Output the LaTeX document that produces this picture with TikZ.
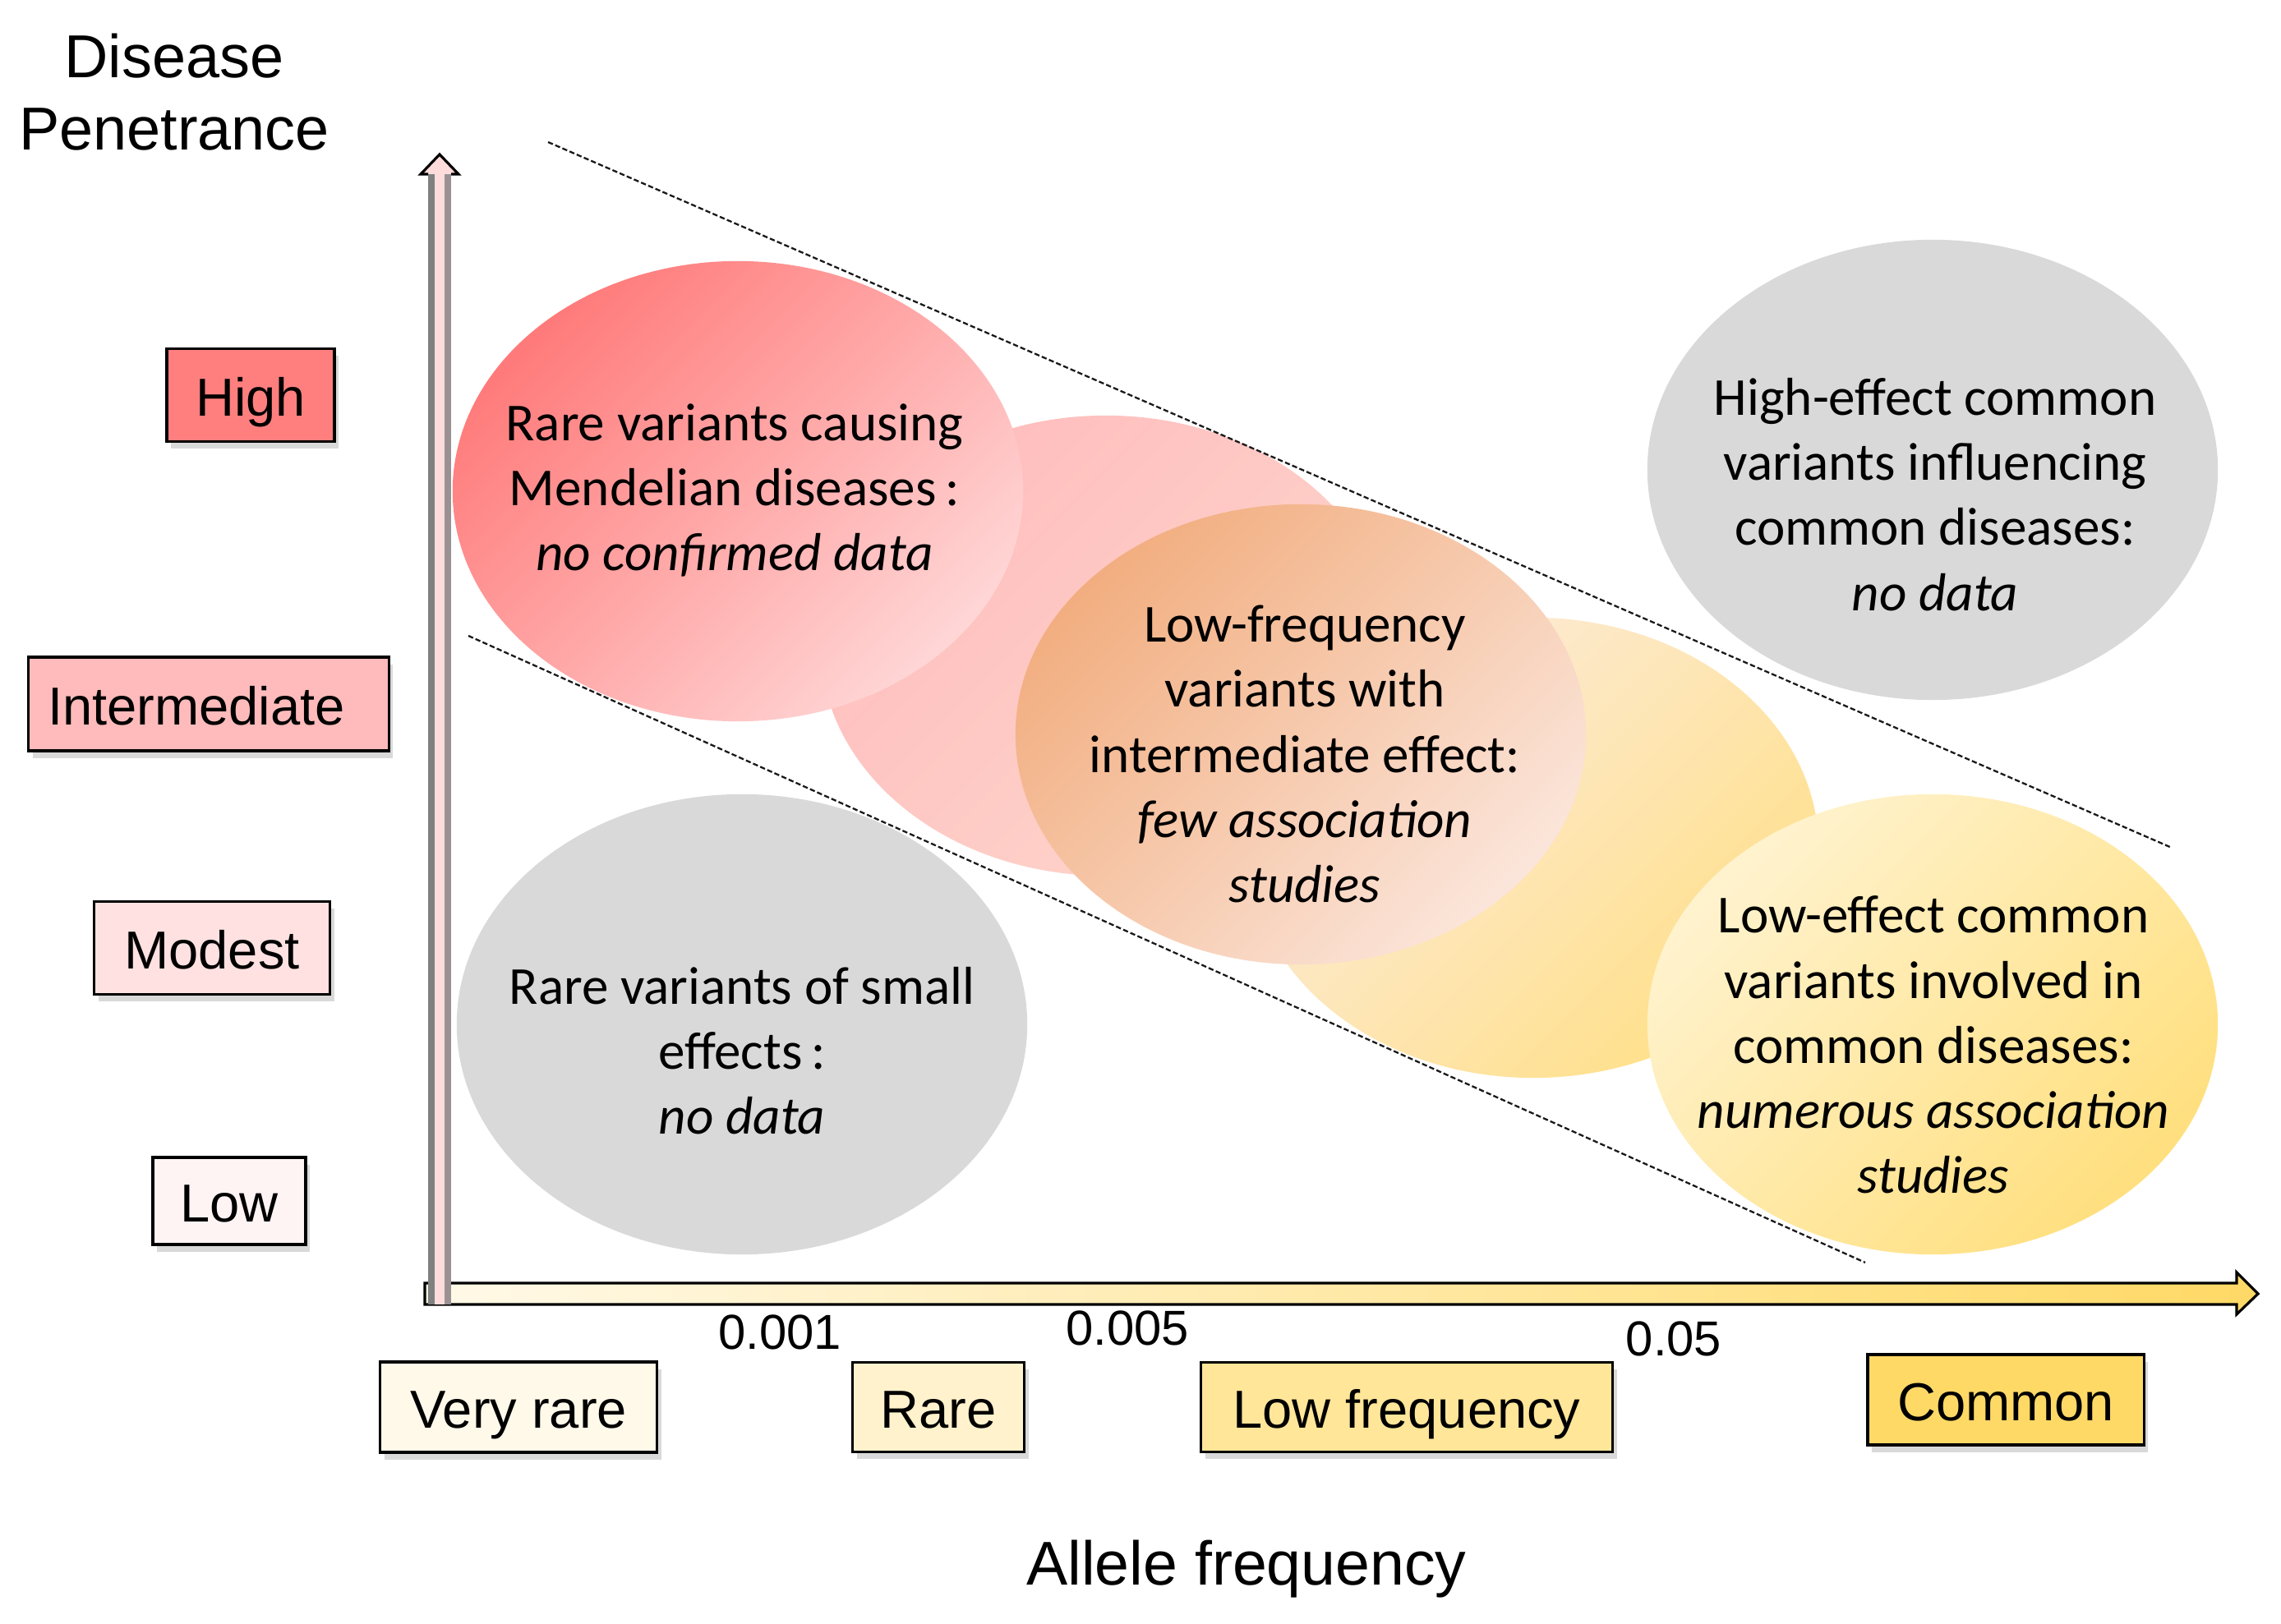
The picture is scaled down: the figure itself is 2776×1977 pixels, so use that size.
\documentclass[tikz,border=0pt]{standalone}
\usepackage{fontspec}
\setmainfont{Liberation Sans}
\newfontfamily\carl{Carlito}
\usetikzlibrary{shapes.geometric,shadows}
\definecolor{hiRed}{HTML}{FF7F7F}
\definecolor{intPink}{HTML}{FFBBBB}
\definecolor{modPink}{HTML}{FFE1E1}
\definecolor{lowPink}{HTML}{FFF4F4}
\definecolor{vrareY}{HTML}{FFF9EA}
\definecolor{rareY}{HTML}{FFF2CC}
\definecolor{lowfY}{HTML}{FFE699}
\definecolor{commonY}{HTML}{FFD966}
\definecolor{grayE}{HTML}{D9D9D9}
\definecolor{axPink}{HTML}{FFDCDC}
\definecolor{axGray}{HTML}{808080}
\definecolor{pinkA}{HTML}{FFBDBD}
\definecolor{pinkB}{HTML}{FDD6CC}
\definecolor{peachA}{HTML}{FCEBDD}
\definecolor{peachB}{HTML}{FFE08A}
\definecolor{redA}{HTML}{FF7A7A}
\definecolor{redM}{HTML}{FF9090}
\definecolor{redB}{HTML}{FFD6D6}
\definecolor{orA}{HTML}{F2AE80}
\definecolor{orM}{HTML}{F4B68A}
\definecolor{orB}{HTML}{FBE5DA}
\definecolor{yelA}{HTML}{FFF3CF}
\definecolor{yelB}{HTML}{FFDF7E}
\definecolor{xaxA}{HTML}{FFF9E8}
\definecolor{xaxB}{HTML}{FFD966}
\begin{document}
\begin{tikzpicture}[x=0.01cm,y=-0.01cm,
  lbl/.style={draw=black, line width=0.9pt, inner sep=0pt,
    font=\fontsize{18.5}{22}\selectfont, text height=14.5pt, text depth=0pt,
    drop shadow={shadow xshift=1.5pt, shadow yshift=-2.5pt, opacity=.25, fill=black!60}},
  ell/.style={ellipse, minimum width=6.94cm, minimum height=5.6cm, inner sep=0pt},
  etext/.style={align=center, inner sep=0pt, font=\carl\fontsize{18.5}{22.5}\selectfont},
  num/.style={inner sep=0pt, font=\fontsize{17}{20}\selectfont},
  band/.style={draw=black!90, line width=0.65pt, dash pattern=on 1.8pt off 0.9pt}]
\useasboundingbox (0,0) rectangle (2776,1977);

% background ellipses
\node[ell, top color=pinkA, bottom color=pinkB, shading angle=45] (ePink) at (1346,786) {};
\node[ell, top color=peachA, bottom color=peachB, shading angle=45] (ePeach) at (1866,1032) {};
% main ellipses
\node[ell, top color=redA, middle color=redM, bottom color=redB, shading angle=45] (eRed) at (898,598) {};
\node[ell, top color=orA, middle color=orM, bottom color=orB, shading angle=45] (eOrange) at (1583,894) {};
\node[ell, top color=yelA, bottom color=yelB, shading angle=45] (eYellow) at (2352,1247) {};
\node[ell, fill=grayE] (eGrayTop) at (2352,572) {};
\node[ell, fill=grayE] (eGrayLow) at (903,1247) {};

% ellipse texts
\node[etext] (tRed) at (894,597) {Rare variants causing\\Mendelian diseases\,:\\\itshape no confirmed data};
\node[etext] (tOrange) at (1588,918) {Low-frequency\\variants with\\intermediate effect:\\\itshape few association\\\itshape studies};
\node[etext] (tGrayTop) at (2355,602) {High-effect common\\variants influencing\\common diseases:\\\itshape no data};
\node[etext] (tYellow) at (2353,1272) {Low-effect common\\variants involved in\\common diseases:\\\itshape numerous association\\\itshape studies};
\node[etext] (tGrayLow) at (903,1279) {Rare variants of small\\effects\,:\\\itshape no data};

% dashed band lines
\coordinate (u1) at (667,173);
\coordinate (u2) at (2643,1032);
\coordinate (l1) at (570,774);
\coordinate (l2) at (2270,1537);
\draw[band] (u1) -- (u2);
\draw[band] (l1) -- (l2);

% x axis (block arrow)
\shade[left color=xaxA, right color=xaxB, draw=black, line width=0.9pt]
  (517,1562) -- (2722,1562) -- (2722,1549) -- (2748,1575) -- (2722,1600) -- (2722,1588) -- (517,1588) -- cycle;
% y axis (block arrow)
\fill[axPink] (521,1588) rectangle (549,212);
\draw[axGray, line width=2.2pt] (525,1588) -- (525,212);
\draw[axGray!80!axPink, line width=2.2pt] (545,1588) -- (545,212);
\fill[axPink] (512,212) -- (535,188) -- (558,212) -- cycle;
\draw[black, line width=0.9pt] (521,212) -- (512,212) -- (535,188) -- (558,212) -- (549,212);

% axis titles
\node[align=center, inner sep=0pt, font=\fontsize{21}{25}\selectfont] (ytitle) at (212,112) {Disease\\Penetrance};
\node[inner sep=0pt, font=\fontsize{21.4}{25}\selectfont] (xtitle) at (1517,1910) {Allele frequency};

% penetrance labels
\node[lbl, fill=hiRed, minimum width=2.04cm, minimum height=1.13cm] (pHigh) at (305,481) {High};
\node[lbl, fill=intPink, minimum width=4.38cm, minimum height=1.14cm] (pInt) at (254,857) {\hspace*{-0.3cm}Intermediate};
\node[lbl, fill=modPink, minimum width=2.87cm, minimum height=1.13cm] (pMod) at (258,1154) {Modest};
\node[lbl, fill=lowPink, minimum width=1.86cm, minimum height=1.06cm] (pLow) at (279,1462) {Low};

% frequency labels
\node[lbl, fill=vrareY, minimum width=3.37cm, minimum height=1.10cm] (fVR) at (631,1713) {Very rare};
\node[lbl, fill=rareY, minimum width=2.09cm, minimum height=1.09cm] (fR) at (1142,1713) {Rare};
\node[lbl, fill=lowfY, minimum width=5.01cm, minimum height=1.09cm] (fLF) at (1712,1713) {Low frequency};
\node[lbl, fill=commonY, minimum width=3.36cm, minimum height=1.10cm] (fC) at (2441,1704) {Common};

% thresholds
\node[num] (n1) at (949,1622) {0.001};
\node[num] (n2) at (1372,1617) {0.005};
\node[num] (n3) at (2037,1630) {0.05};
\end{tikzpicture}
\end{document}
